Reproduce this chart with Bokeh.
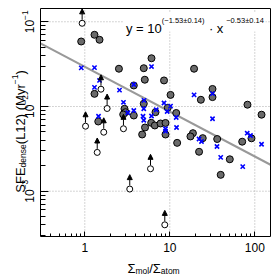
import numpy as np
from bokeh.plotting import figure
from bokeh.models import (ColumnDataSource, Label, BoxAnnotation, Arrow, NormalHead,
                          BasicTickFormatter, Range1d, LogAxis, FixedTicker)
from bokeh.embed import file_html
from bokeh.resources import INLINE

# ---- data ----
gray_x = [0.907, 1.30, 1.49, 2.52, 3.77, 1.30, 2.93, 3.01, 2.83, 3.77, 1.44, 6.09, 4.94,
          5.08, 8.55, 10.2, 4.94, 6.79, 9.47, 11.9, 6.04, 6.66, 7.78, 8.90, 5.11, 8.90,
          4.73, 12.2, 19.3, 31.8, 31.8, 23.2, 82.0, 120.0, 18.7, 17.5, 24.4, 36.1, 91.4,
          71.1, 22.1, 50.8, 39.7]
gray_y = [0.0585, 0.0702, 0.0613, 0.0279, 0.0177, 0.0141, 0.00939, 0.00857, 0.00805,
          0.00783, 0.00665, 0.0371, 0.0283, 0.0207, 0.0203, 0.0137, 0.0108, 0.00857,
          0.00966, 0.00838, 0.00642, 0.00597, 0.00630, 0.00639, 0.00565, 0.00467,
          0.00467, 0.00372, 0.0279, 0.0161, 0.0129, 0.0120, 0.0105, 0.00800, 0.00484,
          0.00443, 0.00423, 0.00413, 0.00421, 0.00384, 0.00292, 0.00238, 0.00156]

blue_x = [0.909, 1.30, 1.49, 1.30, 2.56, 3.77, 2.85, 3.77, 1.45, 6.09, 4.97, 8.55, 3.21,
          4.94, 6.92, 6.09, 10.2, 9.31, 11.9, 4.94, 4.84, 8.90, 8.90, 12.0, 19.3, 31.8,
          31.8, 22.1, 23.6, 81.4, 89.0, 120.0, 35.9, 39.7, 72.1]
blue_y = [0.0286, 0.0288, 0.0203, 0.0168, 0.0156, 0.0182, 0.0112, 0.00897, 0.00768,
          0.0296, 0.0118, 0.0110, 0.00843, 0.00939, 0.00914, 0.00773, 0.0101, 0.00873,
          0.00741, 0.00689, 0.00768, 0.00546, 0.00511, 0.00565, 0.0137, 0.0142,
          0.00716, 0.00413, 0.00386, 0.00484, 0.00455, 0.00358, 0.00337, 0.00251,
          0.00195]

limit_x = [0.93, 1.55, 1.83, 1.02, 1.67, 2.85, 1.40, 5.93, 3.38, 8.73]
limit_y = [0.096, 0.0160, 0.00947, 0.00585, 0.00497, 0.00546, 0.00287, 0.00184,
           0.00106, 0.000401]

fit_log_a = -1.53
fit_b = -0.53

x_lim = [0.301, 153.0]        # visible box
y_lim = [2.92e-4, 0.1435]
canvas_x = [0.1019, 170.5]     # whole canvas (labels live outside the box)
canvas_y = [1.039e-4, 0.1783]
x_ticks = [1, 10, 100]
y_ticks = [0.001, 0.01, 0.1]

FONT = "Liberation Sans"
W = H = 274


def mk(text, x, y, size, angle=0.0):
    return Label(x=x, y=y, x_units="screen", y_units="screen", text=text,
                 text_font=FONT, text_font_size=size, angle=angle,
                 text_align="left", text_baseline="alphabetic",
                 text_color="black")


p = figure(width=W, height=H, x_axis_type="log", y_axis_type="log",
           x_range=Range1d(*canvas_x), y_range=Range1d(*canvas_y),
           output_backend="svg", toolbar_location=None, title=None,
           min_border=0, min_border_left=0, min_border_right=0,
           min_border_top=0, min_border_bottom=0)

p.outline_line_color = None
p.background_fill_color = "white"
p.border_fill_color = "white"

# axes placed at the box edges
p.xaxis.fixed_location = y_lim[0]
p.yaxis.fixed_location = x_lim[0]
p.xaxis.bounds = tuple(x_lim)
p.yaxis.bounds = tuple(y_lim)

for ax in (p.xaxis, p.yaxis):
    ax.axis_line_color = "black"
    ax.axis_line_width = 1
    ax.major_tick_out = 0
    ax.minor_tick_out = 0
    ax.major_tick_line_color = "black"
    ax.minor_tick_line_color = "black"
    ax.major_label_text_font = FONT
    ax.major_label_text_font_size = "12px"
    ax.major_label_text_color = "black"

p.xaxis.major_tick_in = 5
p.xaxis.minor_tick_in = 3
p.xaxis.major_label_standoff = 7
p.xaxis.formatter = BasicTickFormatter()
p.yaxis.major_tick_in = 8
p.yaxis.minor_tick_in = 5
p.yaxis.major_label_standoff = 6
p.yaxis.major_label_orientation = "vertical"

# top / right edges of the box (plain lines, no ticks)
top_ax = LogAxis(fixed_location=y_lim[1], bounds=tuple(x_lim), axis_line_color="black",
                 ticker=FixedTicker(ticks=[]), major_tick_line_color=None,
                 minor_tick_line_color=None)
right_ax = LogAxis(fixed_location=x_lim[1], bounds=tuple(y_lim), axis_line_color="black",
                   ticker=FixedTicker(ticks=[]), major_tick_line_color=None,
                   minor_tick_line_color=None)
p.add_layout(top_ax, "above")
p.add_layout(right_ax, "right")

# dotted grid restricted to the box
for g in (p.xgrid, p.ygrid):
    g.visible = False
p.segment(x0=x_ticks, y0=y_lim[0], x1=x_ticks, y1=y_lim[1],
          line_color="#aaaaaa", line_dash="1 2", line_width=1)
p.segment(x0=x_lim[0], y0=y_ticks, x1=x_lim[1], y1=y_ticks,
          line_color="#aaaaaa", line_dash="1 2", line_width=1)

# fit line
fx = np.array(x_lim)
fy = 10 ** fit_log_a * fx ** fit_b
p.line(fx, fy, line_color="#999999", line_width=2)

# points
p.scatter(gray_x, gray_y, marker="circle", size=7, fill_color="#6a6a6a",
          line_color="black", line_width=1)
p.scatter(blue_x, blue_y, marker="x", size=6, line_color="blue", line_width=1.6)

lim_y = np.array(limit_y)
arr_src = ColumnDataSource(dict(x=limit_x, y0=lim_y * 1.1, y1=lim_y * 1.48))
p.add_layout(Arrow(end=NormalHead(size=5, fill_color="black", line_color="black",
                                  line_width=1),
                   x_start="x", y_start="y0", x_end="x", y_end="y1",
                   source=arr_src, line_color="black", line_width=1))
p.scatter(limit_x, limit_y, marker="circle", size=6, fill_color="white",
          line_color="black", line_width=1)

# equation with white background (canvas coordinates, origin bottom-left)
p.add_layout(BoxAnnotation(left=123, right=265, bottom=243, top=262,
                           left_units="screen", right_units="screen",
                           bottom_units="screen", top_units="screen",
                           fill_color="white", fill_alpha=1, line_color=None))
p.add_layout(mk("y = 10", 125.5, 246.3, "13px"))
p.add_layout(mk("(\u22121.53\u00b10.14)", 161.3, 254.5, "7.5px"))
p.add_layout(mk(" \u00b7 x", 208.4, 246.3, "13px"))
p.add_layout(mk("\u22120.53\u00b10.14", 225.7, 254.5, "7.5px"))

# y-axis label (rotated)
A = np.pi / 2
p.add_layout(mk("SFE", 19.5, 81.8, "13px", A))
p.add_layout(mk("dense", 22.5, 107.1, "8.5px", A))
p.add_layout(mk("(L12) (Myr", 19.5, 130.3, "13px", A))
p.add_layout(mk("\u22121", 14.5, 190.2, "8.5px", A))
p.add_layout(mk(")", 19.5, 199.9, "13px", A))

# x-axis label
p.add_layout(mk("\u03a3", 127, 6.5, "13px"))
p.add_layout(mk("mol", 135, 4, "8.5px"))
p.add_layout(mk("/", 148.7, 6.5, "13px"))
p.add_layout(mk("\u03a3", 152.3, 6.5, "13px"))
p.add_layout(mk("atom", 160.3, 4, "8.5px"))

open("out.html", "w").write(file_html(p, INLINE))
